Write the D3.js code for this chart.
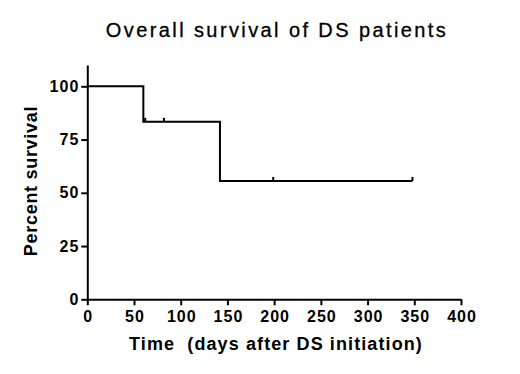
<!DOCTYPE html>
<html>
<head>
<meta charset="utf-8">
<script src="https://cdn.jsdelivr.net/npm/d3@7"></script>
<style>
    body { margin: 0; background: #fff; }
    text { font-family: "Liberation Sans", Arial, sans-serif; fill: #000; }
</style>
</head>
<body>
<div id="chart"></div>
<script>
// survival steps (day, percent)
const stepDays = [0, 60, 142, 348];
const stepSurvival = [100, 83.33, 55.56, 55.56];
// censored observations
const censorDays = [62, 82, 199, 348];
const censorSurvival = [83.33, 83.33, 55.56, 55.56];

const xTicks = [0, 50, 100, 150, 200, 250, 300, 350, 400];
const yTicks = [0, 25, 50, 75, 100];

const width = 520;
const height = 374;
const margin = { left: 87.3, right: 59, top: 65, bottom: 74.7 };

const svg = d3.select("#chart")
    .append("svg")
    .attr("width", width)
    .attr("height", height);

const x = d3.scaleLinear().domain([0, 400]).range([margin.left, width - margin.right]);
const y = d3.scaleLinear().domain([0, 110]).range([height - margin.bottom, margin.top]);

const xAxis = svg.append("g")
    .attr("transform", `translate(0,${y(0)})`)
    .call(d3.axisBottom(x).tickValues(xTicks).tickSize(6).tickPadding(5).tickSizeOuter(0));

const yAxis = svg.append("g")
    .attr("transform", `translate(${x(0)},0)`)
    .call(d3.axisLeft(y).tickValues(yTicks).tickSize(6).tickPadding(2).tickSizeOuter(0));

[xAxis, yAxis].forEach(ax => {
    ax.select(".domain").attr("stroke", "#000").attr("stroke-width", 2);
    ax.selectAll(".tick line").attr("stroke", "#000").attr("stroke-width", 2);
    ax.selectAll(".tick text")
        .style("font-size", "16px")
        .style("font-weight", "bold")
        .style("letter-spacing", "1px")
        .attr("fill", "#000");
});
xAxis.selectAll(".tick text").attr("dx", "0.5px");

// Kaplan-Meier step line
const line = d3.line()
    .x(d => x(d[0]))
    .y(d => y(d[1]))
    .curve(d3.curveStepAfter);

svg.append("path")
    .datum(stepDays.map((d, i) => [d, stepSurvival[i]]))
    .attr("fill", "none")
    .attr("stroke", "#000")
    .attr("stroke-width", 2)
    .attr("d", line);

svg.selectAll(".censor")
    .data(censorDays.map((d, i) => [d, censorSurvival[i]]))
    .enter()
    .append("line")
    .attr("class", "censor")
    .attr("x1", d => x(d[0]))
    .attr("x2", d => x(d[0]))
    .attr("y1", d => y(d[1]))
    .attr("y2", d => y(d[1]) - 4)
    .attr("stroke", "#000")
    .attr("stroke-width", 2);

svg.append("text")
    .attr("x", 277)
    .attr("y", 37)
    .attr("text-anchor", "middle")
    .style("font-size", "20px")
    .style("letter-spacing", "2.4px")
    .style("stroke", "#000")
    .style("stroke-width", "0.3px")
    .text("Overall survival of DS patients");

svg.append("text")
    .attr("x", 276)
    .attr("y", 350)
    .attr("text-anchor", "middle")
    .style("font-size", "18px")
    .style("font-weight", "bold")
    .style("letter-spacing", "1.1px")
    .style("white-space", "pre")
    .text("Time  (days after DS initiation)");

svg.append("text")
    .attr("transform", `translate(37,181) rotate(-90)`)
    .attr("text-anchor", "middle")
    .style("font-size", "18px")
    .style("font-weight", "bold")
    .style("letter-spacing", "0.7px")
    .text("Percent survival");
</script>
</body>
</html>
